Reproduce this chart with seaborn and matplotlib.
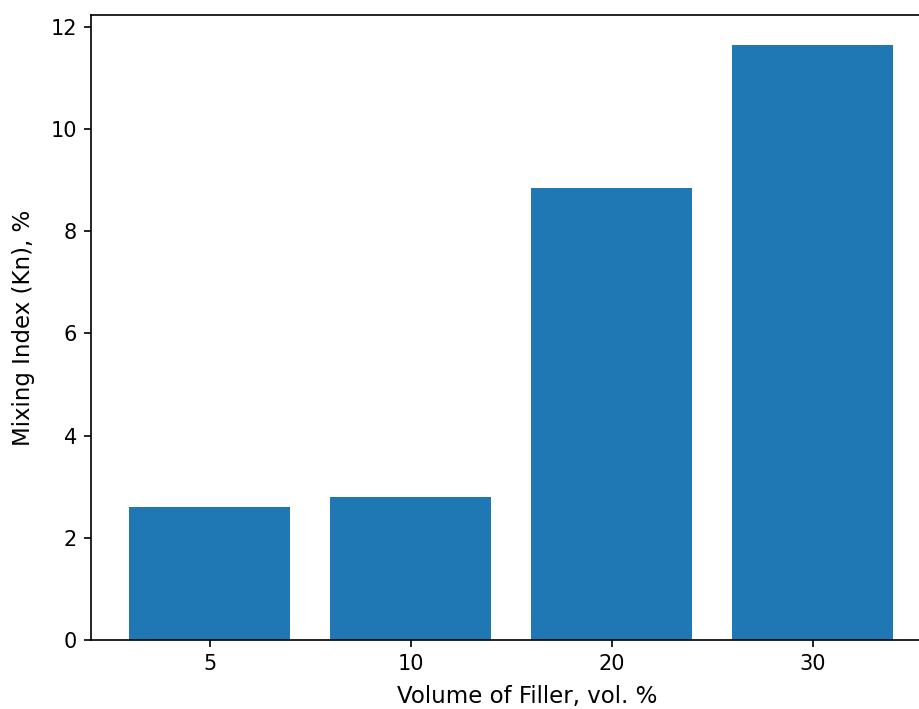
import matplotlib
matplotlib.use("Agg")
import matplotlib.pyplot as plt
import seaborn as sns
import pandas as pd

categories = ["5", "10", "20", "30"]
values = [2.60, 2.80, 8.84, 11.65]

df = pd.DataFrame({"filler": categories, "index": values})

fig = plt.figure(figsize=(9.2, 7.09), dpi=100)
xmin, xmax = -0.59, 3.75
ax = fig.add_axes([0.0989, 0.0973, (xmax - xmin) * 201 / 920, 0.8815])
sns.barplot(data=df, x="filler", y="index", color="#1f77b4", saturation=1,
            width=0.8, ax=ax, errorbar=None)
ax.set_xlim(xmin, xmax)
ax.set_ylim(0, 11.65 * 1.05)
ax.set_xlabel("Volume of Filler, vol. %", fontsize=16.5, labelpad=8)
ax.set_ylabel("Mixing Index (Kn), %", fontsize=16.5, labelpad=11)
ax.tick_params(labelsize=15, length=5.25, width=1.2, pad=5)
for s in ax.spines.values():
    s.set_linewidth(1.2)
ax.spines["right"].set_visible(False)
fig.savefig("out.png", dpi=100)
